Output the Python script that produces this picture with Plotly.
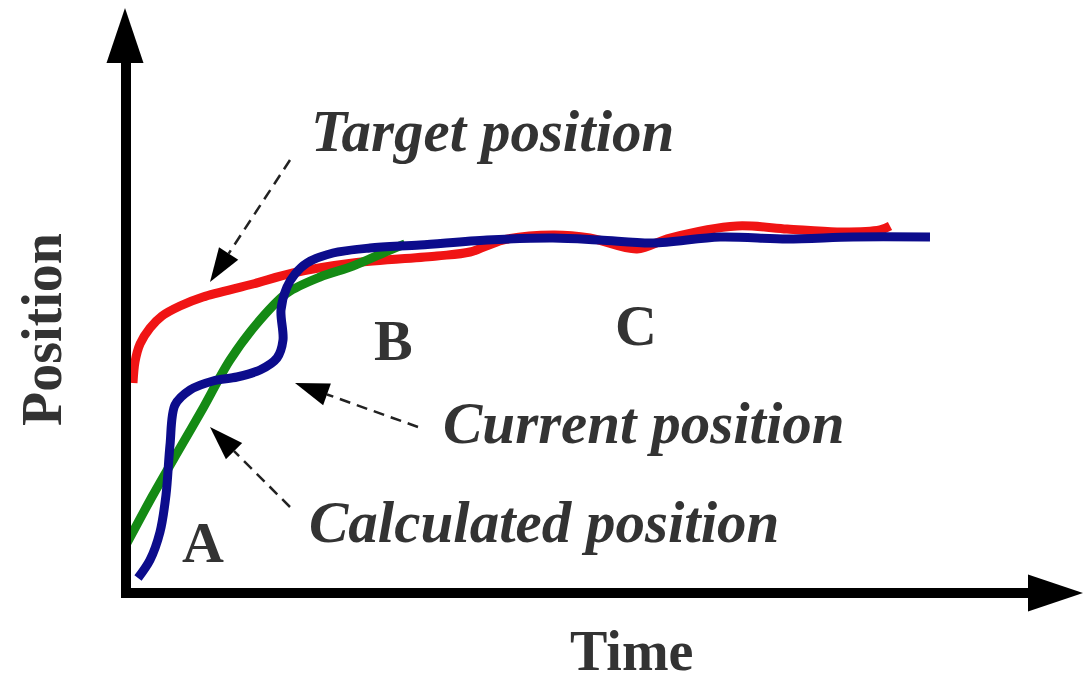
import math
import plotly.graph_objects as go

# Curves in chart units: time to the right, position upward, origin at the axes corner
target_t = [7, 9, 14, 24, 36, 54, 77, 127, 167, 227, 311, 344, 377, 427, 464, 511, 544, 611, 661, 711, 754, 764]
target_p = [210, 231, 249, 265, 277, 287, 296, 309, 320, 330, 337, 341, 353, 358, 355, 344, 355, 367, 364, 361, 363, 367]

calc_t = [0, 27, 54, 76, 104, 134, 161, 194, 227, 264, 279]
calc_p = [48, 98, 145, 183, 233, 273, 300, 316, 327, 343, 349]

current_t = [12, 24, 34, 40, 44, 49, 64, 87, 111, 134, 151, 157, 155, 161, 169, 181, 207, 244,
             294, 361, 427, 474, 527, 594, 661, 727, 804]
current_p = [15, 33, 61, 98, 148, 188, 203, 212, 216, 223, 235, 253, 283, 306, 319, 330, 340, 345,
             348, 353, 355, 353, 350, 356, 354, 356, 356]

# Callout labels: text, label centre, pointer tail, pointer tip
callout_text = ["Target position", "Current position", "Calculated position"]
callout_x = [366, 518, 418]
callout_y = [462, 170, 71]
pointer_tail = [(164, 433), (292, 166), (164, 86)]
pointer_tip = [(84, 311), (169, 210), (84, 166)]

# Region letters
region_text = ["A", "B", "C"]
region_x = [77, 267, 510]
region_y = [51, 253, 268]

TEXT = "#333333"
SERIF = "Liberation Serif"

fig = go.Figure()
fig.add_trace(go.Scatter(x=target_t, y=target_p, mode="lines",
                         line=dict(color="#f01414", width=9, shape="spline", smoothing=0.9)))
fig.add_trace(go.Scatter(x=calc_t, y=calc_p, mode="lines",
                         line=dict(color="#148a14", width=9, shape="spline", smoothing=0.9)))
fig.add_trace(go.Scatter(x=current_t, y=current_p, mode="lines",
                         line=dict(color="#0c0c8c", width=9, shape="spline", smoothing=0.9)))


def triangle(tip, tail, length, half):
    dx, dy = tip[0] - tail[0], tip[1] - tail[1]
    n = math.hypot(dx, dy)
    ux, uy = dx / n, dy / n
    bx, by = tip[0] - ux * length, tip[1] - uy * length
    px, py = -uy, ux
    return (f"M {tip[0]},{tip[1]} L {bx + px * half},{by + py * half} "
            f"L {bx - px * half},{by - py * half} Z"), (bx, by)


shapes = []
# Axes with arrow heads
shapes.append(dict(type="line", x0=0, y0=-5, x1=0, y1=532, line=dict(color="black", width=10)))
shapes.append(dict(type="line", x0=-5, y0=0, x1=904, y1=0, line=dict(color="black", width=10)))
p, _ = triangle((-1, 585), (-1, 0), 55, 18.5)
shapes.append(dict(type="path", path=p, fillcolor="black", line=dict(width=0)))
p, _ = triangle((957, 0), (0, 0), 55, 18.5)
shapes.append(dict(type="path", path=p, fillcolor="black", line=dict(width=0)))

# Dashed pointers with solid heads
for tail, tip in zip(pointer_tail, pointer_tip):
    p, base = triangle(tip, tail, 34, 11.5)
    shapes.append(dict(type="line", x0=tail[0], y0=tail[1], x1=base[0], y1=base[1],
                       line=dict(color="#222222", width=2.5, dash="11px,7px")))
    shapes.append(dict(type="path", path=p, fillcolor="black", line=dict(width=0)))

annotations = []
for t, x, y in zip(callout_text, callout_x, callout_y):
    annotations.append(dict(x=x, y=y, text=f"<b><i>{t}</i></b>", showarrow=False,
                            xanchor="center", yanchor="middle",
                            font=dict(family=SERIF, size=59, color=TEXT)))
for t, x, y in zip(region_text, region_x, region_y):
    annotations.append(dict(x=x, y=y, text=f"<b>{t}</b>", showarrow=False,
                            xanchor="center", yanchor="middle",
                            font=dict(family=SERIF, size=58, color=TEXT)))
annotations.append(dict(x=505, y=-58, text="<b>Time</b>", showarrow=False,
                        xanchor="center", yanchor="middle",
                        font=dict(family=SERIF, size=56, color=TEXT)))
annotations.append(dict(x=-84, y=263, text="<b>Position</b>", showarrow=False, textangle=-90,
                        xanchor="center", yanchor="middle",
                        font=dict(family=SERIF, size=56, color=TEXT)))

fig.update_layout(
    width=1090, height=681,
    margin=dict(l=0, r=0, t=0, b=0),
    paper_bgcolor="white", plot_bgcolor="white",
    showlegend=False,
    xaxis=dict(range=[-126, 964], visible=False, fixedrange=True),
    yaxis=dict(range=[-88, 593], visible=False, fixedrange=True),
    shapes=shapes,
    annotations=annotations,
)

fig.write_html("out.html")
